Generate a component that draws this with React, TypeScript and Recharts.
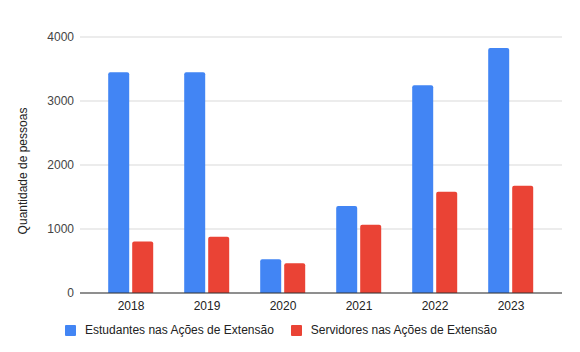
import React from 'react';
import { BarChart, Bar, XAxis, YAxis, CartesianGrid, Legend } from 'recharts';

const years = ['2018', '2019', '2020', '2021', '2022', '2023'];
const estudantes = [3450, 3450, 528, 1358, 3245, 3830];
const servidores = [805, 877, 465, 1065, 1582, 1676];
const yTicks = [0, 1000, 2000, 3000, 4000];

const seriesNames = ['Estudantes nas Ações de Extensão', 'Servidores nas Ações de Extensão'];
const colors = ['#4285F4', '#EA4335'];

const data = years.map((year, i) => ({
    year,
    estudantes: estudantes[i],
    servidores: servidores[i],
}));

const font = '"Liberation Sans", Arial, sans-serif';

function ChartLegend() {
    return (
        <div style={{ display: 'flex', justifyContent: 'center', alignItems: 'center', fontFamily: font, fontSize: 12, color: '#222', height: 30 }}>
            {seriesNames.map((name, i) => (
                <div key={name} style={{ display: 'flex', alignItems: 'center', marginLeft: i ? 17 : 0 }}>
                    <span style={{ width: 11, height: 11, background: colors[i], display: 'inline-block', marginRight: 9, borderRadius: 1 }} />
                    <span>{name}</span>
                </div>
            ))}
        </div>
    );
}

function App() {
    return (
        <div style={{ position: 'absolute', left: 0, top: 0, width: 580, height: 352, background: '#fff' }}>
            <BarChart
                width={580}
                height={352}
                data={data}
                margin={{ top: 37, right: 18, bottom: 7, left: 0 }}
                barCategoryGap='20%'
                barGap={3}
            >
                <CartesianGrid vertical={false} stroke='#d9d9d9' />
                <XAxis
                    dataKey='year'
                    height={22}
                    padding={{ left: 13, right: 13 }}
                    tickLine={false}
                    axisLine={{ stroke: '#333' }}
                    tick={{ fill: '#222', fontSize: 12, fontFamily: font }}
                />
                <YAxis
                    width={80}
                    domain={[0, 4000]}
                    ticks={yTicks}
                    tickLine={false}
                    axisLine={false}
                    tickMargin={0}
                    tick={{ fill: '#444', fontSize: 12, fontFamily: font }}
                    label={{
                        content: () => (
                            <text
                                transform='translate(27,171) rotate(-90)'
                                textAnchor='middle'
                                fill='#222'
                                fontSize={12}
                                fontFamily={font}
                            >
                                Quantidade de pessoas
                            </text>
                        ),
                    }}
                />
                <Legend verticalAlign='bottom' content={() => <ChartLegend />} />
                <Bar dataKey='estudantes' name={seriesNames[0]} fill={colors[0]} radius={[2, 2, 0, 0]} isAnimationActive={false} />
                <Bar dataKey='servidores' name={seriesNames[1]} fill={colors[1]} radius={[2, 2, 0, 0]} isAnimationActive={false} />
            </BarChart>
        </div>
    );
}

export default App;
